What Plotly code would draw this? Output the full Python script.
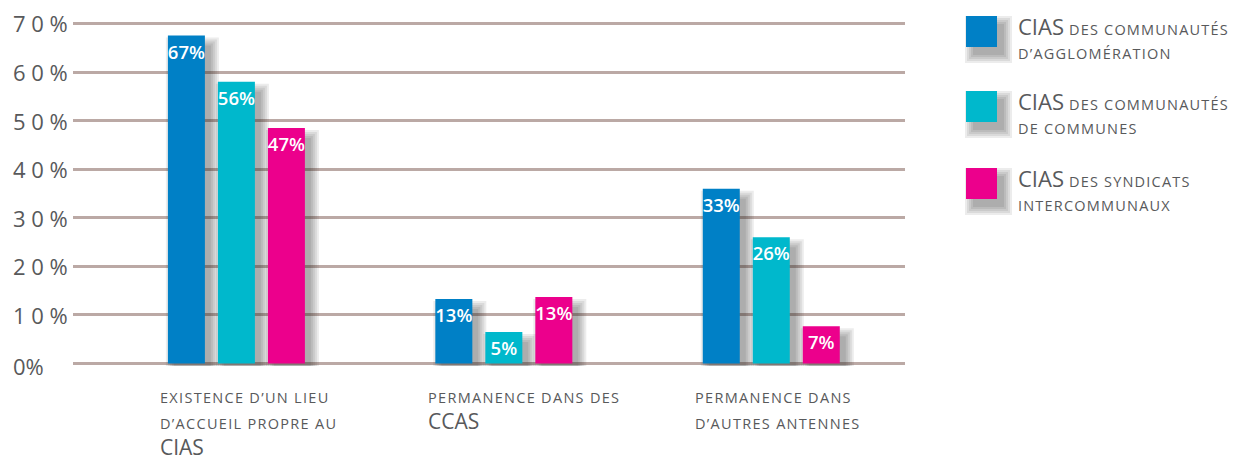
import plotly.graph_objects as go

# ---------------- data ----------------
categories = [
    "existence d’un lieu<br>d’accueil propre au<br>CIAS",
    "permanence dans des<br>CCAS",
    "permanence dans<br>d’autres antennes",
]
series_names = [
    "CIAS des communautés<br>d’agglomération",
    "CIAS des communautés<br>de communes",
    "CIAS des syndicats<br>intercommunaux",
]
# bar heights as drawn (in %)
agglo_heights = [67.5, 13.3, 36.0]
communes_heights = [58.0, 6.5, 26.0]
syndicats_heights = [48.5, 13.7, 7.7]
# printed labels (in %)
agglo_labels = [67, 13, 33]
communes_labels = [56, 5, 26]
syndicats_labels = [47, 13, 7]

y_tick_values = [0, 10, 20, 30, 40, 50, 60, 70]
y_tick_text = ["0%", "1 0 %", "2 0 %", "3 0 %", "4 0 %", "5 0 %", "6 0 %", "7 0 %"]

colors = ["#0080c6", "#00b8cc", "#ec008c"]
heights = [agglo_heights, communes_heights, syndicats_heights]
labels = [agglo_labels, communes_labels, syndicats_labels]

# ---------------- geometry ----------------
OFF = 8                      # page body margin
W, H = 1245 - OFF, 460 - OFF
ML, MR, MT, MB = 73 - OFF, 340, 21 - OFF, 94
PW, PH = W - ML - MR, H - MT - MB
XR = [-0.611, 2.50]
YR = [-0.5, 70.5]
pxu = PW / (XR[1] - XR[0])   # px per x unit
pyu = PH / (YR[1] - YR[0])   # px per y unit

bar_w = 37 / pxu
slot = 50 / pxu
TEXT = "#58595b"
FONT = "Open Sans"
GRID = "#bba9a5"


def px_to_paper_x(px):
    # px given in page pixels
    return (px - OFF - ML) / PW


def px_to_paper_y(py):
    return (MT + PH - (py - OFF)) / PH


def smallcaps(text, big, small, spacing):
    out_lines = []
    for line in text.split("<br>"):
        words = line.split(" ")
        groups = []
        for w in words:
            is_big = w.isupper()
            if groups and groups[-1][0] == is_big:
                groups[-1][1].append(w)
            else:
                groups.append([is_big, [w]])
        parts = []
        for i, (is_big, ws) in enumerate(groups):
            s = " ".join(ws)
            lead = " " if i > 0 else ""
            if is_big:
                parts.append(f"<span style='font-size:{big}px'>{lead}{s}</span>")
            else:
                parts.append(
                    f"<span style='font-size:{small}px;letter-spacing:{spacing}px'>{lead}{s.upper()}</span>")
        out_lines.append("".join(parts))
    return "<br>".join(out_lines)


fig = go.Figure()
xs = list(range(len(categories)))

# soft drop shadows
dx, dy, g, layers = 6, 10, 2, 5
SH = "rgba(30,30,30,0.085)"
for k in range(3):
    center = (k - 1) * slot
    for j in range(layers):
        base = -(dy + j * g) / pyu
        fig.add_trace(go.Bar(
            x=xs,
            y=[h + 2 * j * g / pyu for h in heights[k]],
            base=[base] * len(xs),
            offset=center - bar_w / 2 + (dx - j * g) / pxu,
            width=bar_w + 2 * j * g / pxu,
            marker=dict(color=SH, line=dict(width=0)),
            hoverinfo="skip", showlegend=False,
        ))

# real bars
for k in range(3):
    center = (k - 1) * slot
    fig.add_trace(go.Bar(
        x=xs,
        y=heights[k],
        offset=center - bar_w / 2,
        width=bar_w,
        marker=dict(color=colors[k], line=dict(width=0)),
        text=[f"{v}%" for v in labels[k]],
        textposition="inside",
        insidetextanchor="end",
        textangle=0,
        constraintext="none",
        textfont=dict(color="white", size=18.5, family=FONT, weight=600),
        name=series_names[k].replace("<br>", " "),
        showlegend=False,
        cliponaxis=False,
    ))

annotations = []
# y tick labels (left aligned)
for v, t in zip(y_tick_values, y_tick_text):
    annotations.append(dict(
        x=px_to_paper_x(11), xref="paper", xanchor="left",
        y=v, yref="y", yanchor="middle", yshift=-2 if v == 0 else 0,
        text=t, showarrow=False,
        font=dict(family=FONT, size=22, color=TEXT),
    ))

# category labels
for i, c in enumerate(categories):
    annotations.append(dict(
        x=i - 78 / pxu, xref="x", xanchor="left",
        y=px_to_paper_y(386), yref="paper", yanchor="top",
        align="left", showarrow=False,
        text=smallcaps(c, 21, 14.5, 1.3),
        font=dict(family=FONT, size=20, color=TEXT),
    ))

# legend
shapes = []
leg_tops = [16, 91, 168]
ldx, ldy = 7, 8
for k in range(3):
    top = leg_tops[k]
    for j in range(layers):
        shapes.append(dict(
            type="rect", xref="paper", yref="paper",
            x0=px_to_paper_x(966 + ldx - j * g), x1=px_to_paper_x(997 + ldx + j * g),
            y0=px_to_paper_y(top + ldy - j * g), y1=px_to_paper_y(top + 31 + ldy + j * g),
            fillcolor=SH, line=dict(width=0), layer="above",
        ))
    shapes.append(dict(
        type="rect", xref="paper", yref="paper",
        x0=px_to_paper_x(966), x1=px_to_paper_x(997),
        y0=px_to_paper_y(top), y1=px_to_paper_y(top + 31),
        fillcolor=colors[k], line=dict(width=0), layer="above",
    ))
    annotations.append(dict(
        x=px_to_paper_x(1016), xref="paper", xanchor="left",
        y=px_to_paper_y(top - 7), yref="paper", yanchor="top",
        align="left", showarrow=False,
        text=smallcaps(series_names[k], 22, 14.5, 1.2),
        font=dict(family=FONT, size=18.5, color=TEXT),
    ))

fig.update_layout(
    width=W, height=H,
    margin=dict(l=ML, r=MR, t=MT, b=MB),
    paper_bgcolor="white", plot_bgcolor="white",
    barmode="overlay",
    showlegend=False,
    xaxis=dict(range=XR, showgrid=False, zeroline=False, showticklabels=False,
               showline=False, ticks="", fixedrange=True),
    yaxis=dict(range=YR, tickvals=y_tick_values, showticklabels=False,
               showgrid=True, gridcolor=GRID, gridwidth=3, zeroline=False,
               showline=False, ticks="", fixedrange=True),
    annotations=annotations,
    shapes=shapes,
    font=dict(family=FONT, color=TEXT),
)

fig.write_html("out.html")
